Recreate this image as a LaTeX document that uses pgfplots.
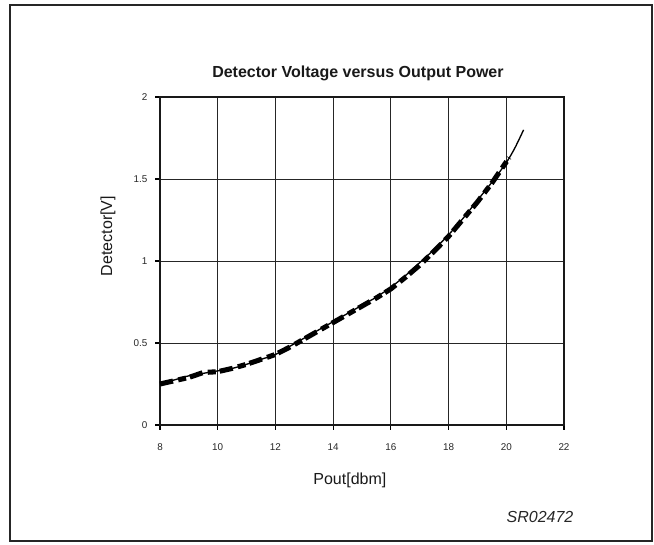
\documentclass[border=0pt]{standalone}
\usepackage{pgfplots}
\pgfplotsset{compat=1.18}
\usepackage{fontspec}
\setmainfont{Liberation Sans}
\setsansfont{Liberation Sans}
\begin{document}
\begin{tikzpicture}
\path[use as bounding box] (0pt,0pt) rectangle (490.5pt,408pt);
\draw[line width=1.2pt,black!85] (7.5pt,2.25pt) rectangle (489pt,404.25pt);
\begin{axis}[
  at={(120pt,89.25pt)}, anchor=south west,
  scale only axis, width=303pt, height=246pt,
  xmin=8, xmax=22, ymin=0, ymax=2,
  xtick={8,10,...,22}, ytick={0,0.5,1,1.5,2},
  yticklabels={0,0.5,1,1.5,2},
  grid=major, grid style={black!85, line width=0.6pt},
  axis line style={black!90, line width=1.8pt},
  tick align=outside, tick pos=left, major tick length=3.5pt,
  tick style={black, line width=0.9pt},
  /pgf/number format/assume math mode=true,
  ticklabel style={font=\fontsize{7.4}{8}\selectfont, text=black!85},
  xticklabel style={yshift=-7pt},
  yticklabel style={xshift=-2.5pt},
  title={\bfseries Detector Voltage versus Output Power},
  title style={font=\fontsize{12}{14}\selectfont, at={(axis description cs:0.49,1.064)}, anchor=center, yshift=-4pt, text=black!90},
  xlabel={Pout[dbm]}, ylabel={Detector[V]},
  every axis x label/.style={at={(axis description cs:0.470,-0.1677)}, anchor=center, font=\fontsize{12}{14}\selectfont, text=black!90},
  every axis y label/.style={at={(axis description cs:-0.1287,0.576)}, rotate=90, anchor=center, font=\fontsize{12}{14}\selectfont, text=black!90},
  clip=false,
]
\addplot[black, line width=1pt, smooth] coordinates {
(8,0.255) (8.5,0.275) (9,0.30) (9.5,0.315) (10,0.33) (10.5,0.345) (11,0.37)
(11.5,0.40) (12,0.43) (12.5,0.48) (13,0.53) (13.5,0.58) (14,0.63) (14.5,0.68)
(15,0.73) (15.5,0.78) (16,0.84) (16.5,0.91) (17,0.99) (17.5,1.07) (18,1.16)
(18.5,1.26) (19,1.37) (19.5,1.48) (20,1.60) (20.3,1.69) (20.6,1.80)};
\addplot[black, line width=3.8pt, dash pattern=on 10pt off 4pt on 6pt off 3pt] coordinates {
(8,0.25) (8.5,0.27) (9,0.29) (9.5,0.32) (10,0.325) (10.5,0.345) (11,0.37)
(11.5,0.40) (12,0.43) (12.5,0.475) (13,0.525) (13.5,0.575) (14,0.625) (14.5,0.675)
(15,0.725) (15.5,0.775) (16,0.83) (16.5,0.90) (17,0.975) (17.5,1.06) (18,1.15)
(18.5,1.255) (19,1.36) (19.5,1.475) (20.1,1.63)};
\end{axis}
\node[font=\itshape\fontsize{12}{14}\selectfont, text=black!85] at (405pt,20.25pt) {SR02472};
\end{tikzpicture}
\end{document}
